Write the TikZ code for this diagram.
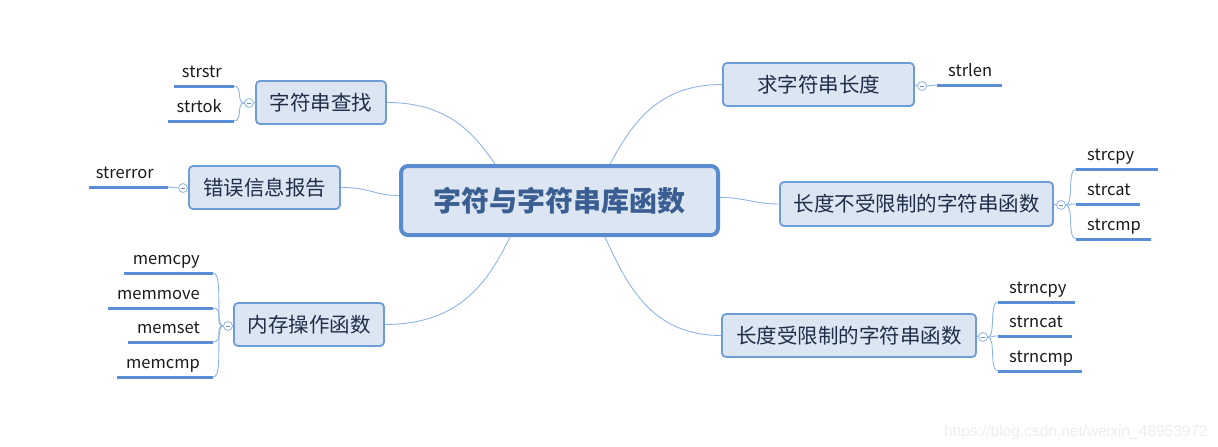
\documentclass[tikz,border=0pt]{standalone}
\usepackage{fontspec}
\setmainfont{Noto Sans CJK SC}
\newfontfamily\wmfont{Liberation Sans}
\definecolor{boxf}{HTML}{DCE6F2}
\definecolor{boxb}{HTML}{6E9DD6}
\definecolor{rootb}{HTML}{5A8BCE}
\definecolor{boxt}{HTML}{1E2D48}
\definecolor{roott}{HTML}{3B5E92}
\definecolor{connc}{HTML}{8EB4E3}
\definecolor{leafc}{HTML}{5A8DD6}
\definecolor{wmc}{HTML}{EDEDED}
\begin{document}
\begin{tikzpicture}[x=1pt,y=-1pt,
  box/.style={draw=boxb, fill=boxf, line width=1.8pt, rounded corners=4pt, inner sep=0pt,
    font=\fontsize{20.5}{24}\selectfont, text=boxt, minimum height=43pt},
  rootbox/.style={draw=rootb, fill=boxf, line width=4pt, rounded corners=7pt, inner sep=0pt,
    font=\fontsize{28}{32}\selectfont\bfseries, text=roott, minimum width=317pt, minimum height=69pt},
  leaf/.style={inner sep=0pt, font=\fontsize{16.5}{18}\selectfont, text=black!90},
  leafline/.style={draw=leafc, line width=3pt},
  conn/.style={draw=connc, line width=0.9pt},
  knob/.style={circle, draw=connc, fill=white, line width=0.8pt, minimum size=9pt, inner sep=0pt,
    path picture={\draw[connc!80!black, line width=0.6pt] ([xshift=-2.2pt]path picture bounding box.center) -- ([xshift=2.2pt]path picture bounding box.center);}}
]
\useasboundingbox (0,0) rectangle (1218,447);

% main nodes
\node[rootbox] (root) at (559.5,200.5) {字符与字符串库函数};
\node[box, minimum width=130pt] (find) at (321,102.5) {字符串查找};
\node[box, minimum width=151pt] (err) at (264.5,187.5) {错误信息报告};
\node[box, minimum width=150pt] (mem) at (309,324.5) {内存操作函数};
\node[box, minimum width=191pt] (len) at (818.5,84.5) {求字符串长度};
\node[box, minimum width=273pt, minimum height=44pt] (unl) at (916.5,204) {长度不受限制的字符串函数};
\node[box, minimum width=254pt] (lim) at (849,335.5) {长度受限制的字符串函数};

% root anchor points
\coordinate (rTL) at (495,164);
\coordinate (rTR) at (610,164);
\coordinate (rBL) at (510,237);
\coordinate (rBR) at (605,237);

% main connectors
\draw[conn] (find.east) .. controls +(60,0) and +(-22,-32) .. (rTL);
\draw[conn] (err.east) .. controls +(30,0) and +(-25,0) .. ([yshift=5pt]root.west);
\draw[conn] (mem.east) .. controls +(75,0) and +(-22,45) .. (rBL);
\draw[conn] (len.west) .. controls +(-65,0) and +(22,-40) .. (rTR);
\draw[conn] ([yshift=3pt]root.east) .. controls +(25,0) and +(-25,0) .. (unl.west);
\draw[conn] (rBR) .. controls +(22,48) and +(-70,0) .. (lim.west);

% knobs
\node[knob] (kfind) at (249,103) {};
\node[knob] (kerr) at (183,188) {};
\node[knob] (kmem) at (228,326) {};
\node[knob] (klen) at (922,86) {};
\node[knob] (kunl) at (1061,205) {};
\node[knob] (klim) at (983,337) {};

\draw[conn] (find.west) -- (kfind.east);
\draw[conn] (err.west) -- (kerr.east);
\draw[conn] (mem.west) -- (kmem.east);
\draw[conn] (len.east) -- (klen.west);
\draw[conn] (unl.east) -- (kunl.west);
\draw[conn] (lim.east) -- (klim.west);

% left leaves: find
\node[leaf, anchor=base east] (strstr) at (222,77) {strstr};
\draw[leafline] (174,86) coordinate (strstrA) -- (234,86) coordinate (strstrB);
\node[leaf, anchor=base east] (strtok) at (222,112) {strtok};
\draw[leafline] (168,121) coordinate (strtokA) -- (234,121) coordinate (strtokB);
\draw[conn] (kfind.west) .. controls +(-8,0) and +(9,0) .. (strstrB);
\draw[conn] (kfind.west) .. controls +(-8,0) and +(9,0) .. (strtokB);

% err
\node[leaf, anchor=base east] (strerror) at (154,178) {strerror};
\draw[leafline] (89,187) coordinate (strerrorA) -- (168,187) coordinate (strerrorB);
\draw[conn] (kerr.west) -- (strerrorB);

% mem
\node[leaf, anchor=base east] (memcpy) at (200,264) {memcpy};
\draw[leafline] (124,273) coordinate (memcpyA) -- (213,273) coordinate (memcpyB);
\node[leaf, anchor=base east] (memmove) at (200,299) {memmove};
\draw[leafline] (108,308) coordinate (memmoveA) -- (213,308) coordinate (memmoveB);
\node[leaf, anchor=base east] (memset) at (200,333) {memset};
\draw[leafline] (128,342) coordinate (memsetA) -- (213,342) coordinate (memsetB);
\node[leaf, anchor=base east] (memcmp) at (200,368) {memcmp};
\draw[leafline] (117,377) coordinate (memcmpA) -- (213,377) coordinate (memcmpB);
\foreach \l in {memcpyB,memmoveB,memsetB,memcmpB}
  \draw[conn] (kmem.west) .. controls +(-9,0) and +(11,0) .. (\l);

% len
\node[leaf, anchor=base west] (strlen) at (948,76) {strlen};
\draw[leafline] (937,85) coordinate (strlenA) -- (1002,85) coordinate (strlenB);
\draw[conn] (klen.east) -- (strlenA);

% unl
\node[leaf, anchor=base west] (strcpy) at (1087,160) {strcpy};
\draw[leafline] (1076,169) coordinate (strcpyA) -- (1158,169) coordinate (strcpyB);
\node[leaf, anchor=base west] (strcat) at (1087,195) {strcat};
\draw[leafline] (1076,204) coordinate (strcatA) -- (1140,204) coordinate (strcatB);
\node[leaf, anchor=base west] (strcmp) at (1087,230) {strcmp};
\draw[leafline] (1076,239) coordinate (strcmpA) -- (1151,239) coordinate (strcmpB);
\foreach \l in {strcpyA,strcatA,strcmpA}
  \draw[conn] (kunl.east) .. controls +(8,0) and +(-9,0) .. (\l);

% lim
\node[leaf, anchor=base west] (strncpy) at (1009,293) {strncpy};
\draw[leafline] (998,302) coordinate (strncpyA) -- (1075,302) coordinate (strncpyB);
\node[leaf, anchor=base west] (strncat) at (1009,327) {strncat};
\draw[leafline] (998,336) coordinate (strncatA) -- (1072,336) coordinate (strncatB);
\node[leaf, anchor=base west] (strncmp) at (1009,362) {strncmp};
\draw[leafline] (998,371) coordinate (strncmpA) -- (1082,371) coordinate (strncmpB);
\foreach \l in {strncpyA,strncatA,strncmpA}
  \draw[conn] (klim.east) .. controls +(8,0) and +(-9,0) .. (\l);

% watermark
\node[anchor=base east, inner sep=0pt, text=wmc, font=\wmfont\fontsize{15.5}{18}\selectfont] (wm) at (1208,436) {https://blog.csdn.net/weixin\_48953972};
\end{tikzpicture}
\end{document}
